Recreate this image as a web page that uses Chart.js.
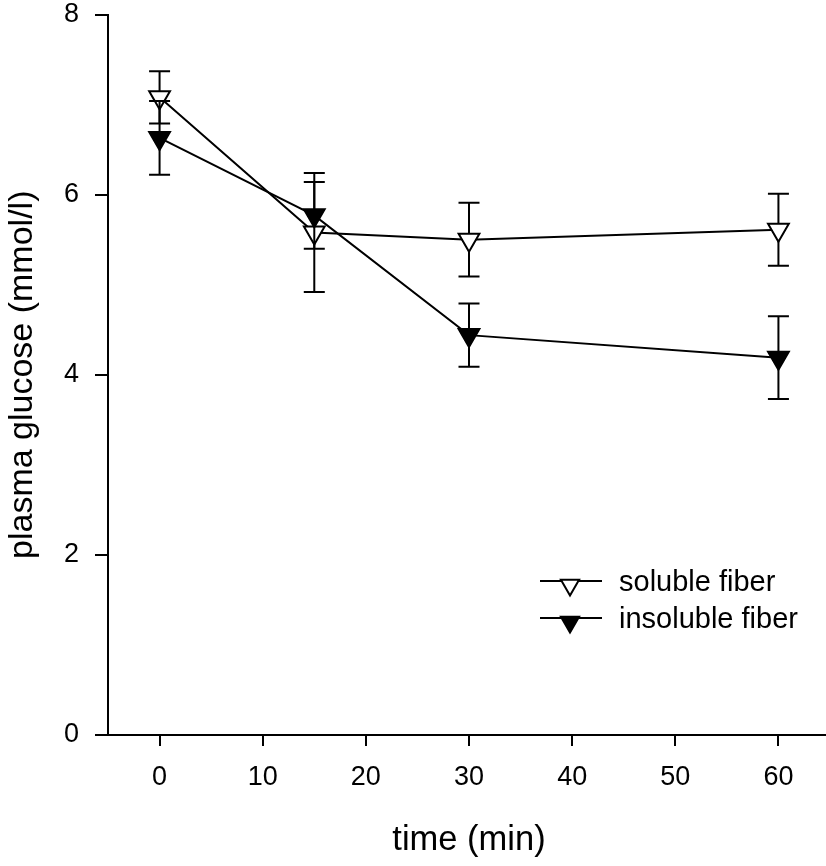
<!DOCTYPE html>
<html>
<head>
<meta charset="utf-8">
<script src="https://cdn.jsdelivr.net/npm/chart.js@4/dist/chart.umd.min.js"></script>
<style>
	html, body { margin: 0; padding: 0; background: #fff; overflow: hidden; }
	#wrap { width: 830px; height: 866px; }
</style>
</head>
<body>
<div id="wrap"><canvas id="glucoseChart" width="830" height="866"></canvas></div>
<script>
// time points (min) and plasma glucose (mmol/l), mean and error
const times = [0, 15, 30, 60];
const solubleMean = [7.08, 5.58, 5.50, 5.61];
const solubleErr = [0.29, 0.66, 0.41, 0.40];
const insolubleMean = [6.63, 5.77, 4.44, 4.19];
const insolubleErr = [0.41, 0.37, 0.35, 0.46];
const seriesNames = ['soluble fiber', 'insoluble fiber'];
const xTicks = [0, 10, 20, 30, 40, 50, 60];
const yTicks = [0, 2, 4, 6, 8];

Chart.defaults.font.family = "'Liberation Sans', Arial, sans-serif";
Chart.defaults.color = '#000';

const errorBars = {
	id: 'errorBars',
	beforeDatasetDraw(chart, args) {
		const ds = chart.data.datasets[args.index];
		const meta = chart.getDatasetMeta(args.index);
		const yScale = chart.scales.y;
		const ctx = chart.ctx;
		ctx.save();
		ctx.strokeStyle = '#000';
		ctx.lineWidth = 2;
		meta.data.forEach((pt, i) => {
			const hi = yScale.getPixelForValue(ds.means[i] + ds.errs[i]);
			const lo = yScale.getPixelForValue(ds.means[i] - ds.errs[i]);
			ctx.beginPath();
			ctx.moveTo(pt.x, hi);
			ctx.lineTo(pt.x, lo);
			ctx.moveTo(pt.x - 10.5, hi);
			ctx.lineTo(pt.x + 10.5, hi);
			ctx.moveTo(pt.x - 10.5, lo);
			ctx.lineTo(pt.x + 10.5, lo);
			ctx.stroke();
		});
		ctx.restore();
	}
};

const lineLegend = {
	id: 'lineLegend',
	afterDraw(chart) {
		const ctx = chart.ctx;
		ctx.save();
		chart.data.datasets.forEach((ds, i) => {
			const y = 581 + i * 37;
			ctx.strokeStyle = '#000';
			ctx.lineWidth = 2;
			ctx.beginPath();
			ctx.moveTo(540, y);
			ctx.lineTo(602, y);
			ctx.stroke();
			// triangle pointing down, centroid slightly below the line
			const cx = 570, cy = y + 4, r = 10.5;
			ctx.beginPath();
			ctx.moveTo(cx, cy + r);
			ctx.lineTo(cx - r * 0.866, cy - r / 2);
			ctx.lineTo(cx + r * 0.866, cy - r / 2);
			ctx.closePath();
			ctx.fillStyle = ds.pointBackgroundColor;
			ctx.fill();
			ctx.stroke();
			ctx.fillStyle = '#000';
			ctx.font = "29px 'Liberation Sans', Arial, sans-serif";
			ctx.textBaseline = 'middle';
			ctx.textAlign = 'left';
			ctx.fillText(ds.label, 619, y + 2);
		});
		ctx.restore();
	}
};

const makeDataset = (label, means, errs, fillColor, order) => ({
	label: label,
	data: times.map((t, i) => ({ x: t, y: means[i] })),
	means: means,
	errs: errs,
	borderColor: '#000',
	borderWidth: 2,
	pointStyle: 'triangle',
	rotation: 180,
	pointRadius: 12,
	pointBackgroundColor: fillColor,
	pointBorderColor: '#000',
	pointBorderWidth: 2,
	tension: 0,
	fill: false,
	order: order,
});

const axisBase = {
	grid: { drawOnChartArea: false, drawTicks: true, color: '#000', lineWidth: 2 },
	border: { display: true, color: '#000', width: 2 },
};

const noPadding = (scale) => {
	scale.paddingTop = 0;
	scale.paddingBottom = 0;
	scale.paddingLeft = 0;
	scale.paddingRight = 0;
};

new Chart(document.getElementById('glucoseChart'), {
	type: 'line',
	data: {
		datasets: [
			makeDataset(seriesNames[0], solubleMean, solubleErr, '#fff', 1),
			makeDataset(seriesNames[1], insolubleMean, insolubleErr, '#000', 0),
		],
	},
	options: {
		responsive: false,
		animation: false,
		events: [],
		layout: { autoPadding: false, padding: { top: 14.5, left: 0, right: 0, bottom: 0 } },
		plugins: { legend: { display: false }, tooltip: { enabled: false } },
		scales: {
			x: {
				...axisBase,
				type: 'linear',
				position: 'bottom',
				min: -5,
				max: 65,
				grid: { ...axisBase.grid, tickLength: 11 },
				afterBuildTicks: (scale) => { scale.ticks = xTicks.map((v) => ({ value: v })); },
				afterFit: (scale) => { scale.height = 131; noPadding(scale); },
				ticks: { font: { size: 27, lineHeight: 1 }, padding: 18, maxRotation: 0 },
				title: { display: true, text: 'time (min)', font: { size: 34.5, lineHeight: 1.2 }, padding: { top: 4, bottom: 5 } },
			},
			y: {
				...axisBase,
				min: 0,
				max: 8,
				grid: { ...axisBase.grid, tickLength: 13 },
				afterBuildTicks: (scale) => { scale.ticks = yTicks.map((v) => ({ value: v })); },
				afterFit: (scale) => { scale.width = 108; noPadding(scale); },
				ticks: { font: { size: 27, lineHeight: 1 }, padding: 16 },
				title: { display: true, text: 'plasma glucose (mmol/l)', font: { size: 34, lineHeight: 1.2 }, padding: { top: 2, bottom: 4 } },
			},
		},
	},
	plugins: [errorBars, lineLegend],
});
</script>
</body>
</html>
